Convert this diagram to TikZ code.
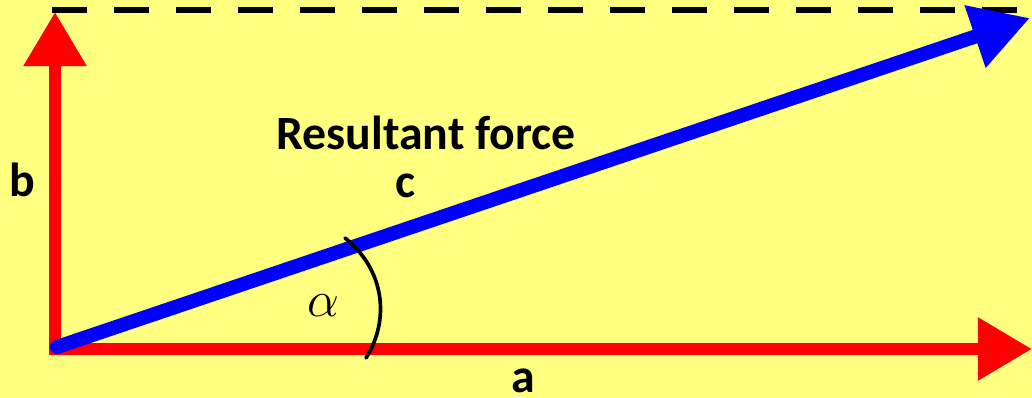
\RequirePackage{fix-cm}
\documentclass[tikz,border=0pt]{standalone}
\usepackage{fontspec}
\setmainfont{Carlito}
\usetikzlibrary{arrows.meta}
\definecolor{bgyellow}{RGB}{255,255,128}
\definecolor{vecred}{RGB}{255,0,0}
\definecolor{vecblue}{RGB}{0,0,255}

\begin{document}
\begin{tikzpicture}[
    x=0.025cm, y=-0.025cm,
    % vectors and helper lines
    component/.style={draw=vecred, line width=8.5pt, -{Triangle[length=1.35cm, width=1.5cm]}, shorten <=-4.2pt},
    resultant/.style={draw=vecblue, line width=10pt, line cap=round, -{Triangle[length=1.45cm, width=1.55cm]}},
    guide/.style={draw=black, line width=3.8pt, dash pattern=on 0.87cm off 0.68cm},
    anglemark/.style={draw=black, line width=2.6pt, line cap=round},
    lbl/.style={font=\fontsize{34}{40}\selectfont\bfseries, inner sep=0pt, anchor=base}
]

% Background
\fill[bgyellow] (0,0) rectangle (1032,398);
\useasboundingbox (0,0) rectangle (1032,398);

% Corner points
\coordinate (O) at (55,349);
\coordinate (A) at (1032,349);
\coordinate (B) at (55,12);
\coordinate (D0) at (52,10);
\coordinate (D1) at (1032,10);
\coordinate (C) at (1030,18);
\coordinate (O2) at (57,347);

% Dashed top line
\draw[guide] (D0) -- (D1);

% Components a and b
\draw[component] (O) -- (A);
\draw[component] (O) -- (B);

% Resultant c
\draw[resultant] (O2) -- (C);

% Angle mark
\coordinate (arcS) at (345,238);
\coordinate (arcE) at (366,358);
\draw[anglemark] (arcS) .. controls (385,270) and (390,320) .. (arcE);

% Labels
\node[lbl] (res) at (426,150) {Resultant force};
\node[lbl] (lblc) at (405,198) {c};
\node[lbl] (lblb) at (22,197) {b};
\node[lbl] (lbla) at (523,393) {a};
\node[font=\fontsize{36}{42}\selectfont, inner sep=0pt] (lblalpha) at (323,306) {$\alpha$};

\end{tikzpicture}
\end{document}
